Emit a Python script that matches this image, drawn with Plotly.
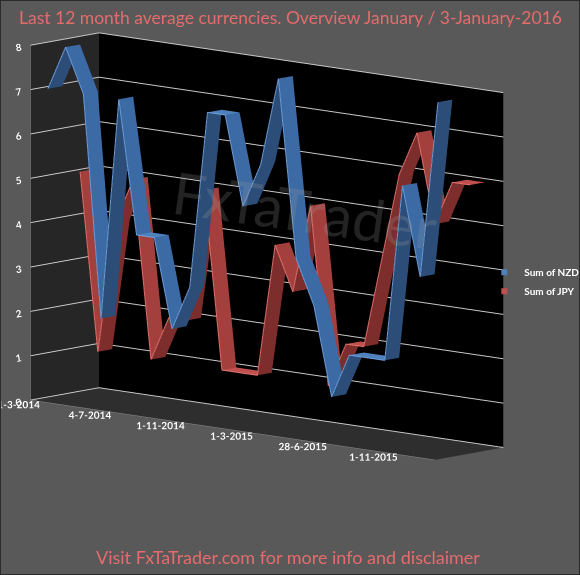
import plotly.graph_objects as go

# monthly snapshots, only every 4th one is labelled on the axis
dates = ["1-3-2014", "6-4-2014", "4-5-2014", "1-6-2014", "4-7-2014", "3-8-2014",
         "7-9-2014", "5-10-2014", "1-11-2014", "7-12-2014", "4-1-2015", "1-2-2015",
         "1-3-2015", "5-4-2015", "3-5-2015", "31-5-2015", "28-6-2015", "2-8-2015",
         "6-9-2015", "4-10-2015", "1-11-2015", "6-12-2015", "3-1-2016"]
nzd = [7, 8, 7, 2, 7, 4, 4, 2, 3, 7, 7, 5, 6, 8, 4, 3, 1, 2, 2, 2, 6, 4, 8]
jpy = [5, 1, 4, 5, 1, 2, 2, 5, 1, 1, 1, 4, 3, 5, 1, 2, 2, 4, 6, 7, 5, 6, 6]
y_ticks = [0, 1, 2, 3, 4, 5, 6, 7, 8]
label_step = 4

TITLE = 'Last 12 month average currencies. Overview January / 3-January-2016'
FOOTER = 'Visit FxTaTrader.com for more info and disclaimer'
TEXT_RED = '#e46c6c'


def ribbon(values, y0, y1, light, mid, dark, edge, name):
    '''
    Builds an Excel like 3D line: a band following the values, with a depth from y0 to y1.
    Rising parts get the dark shade, falling parts the mid shade.
    '''
    xs, ys, zs = [], [], []
    for i, v in enumerate(values):
        xs += [i, i]
        ys += [y0, y1]
        zs += [v, v]

    ii, jj, kk, colors = [], [], [], []
    for i in range(len(values) - 1):
        a, b, c, d = 2 * i, 2 * i + 1, 2 * i + 2, 2 * i + 3
        ii += [a, b]
        jj += [b, d]
        kk += [c, c]
        step = values[i + 1] - values[i]
        col = light if step == 0 else (dark if step > 0 else mid)
        colors += [col, col]

    band = go.Mesh3d(x=xs, y=ys, z=zs, i=ii, j=jj, k=kk,
                     facecolor=colors, flatshading=True,
                     lighting=dict(ambient=1, diffuse=0, specular=0, fresnel=0),
                     hoverinfo='skip', showlegend=False, name=name)
    front = go.Scatter3d(x=list(range(len(values))), y=[y0] * len(values), z=values,
                         mode='lines', line=dict(color=edge, width=2),
                         hoverinfo='skip', showlegend=False)
    key = go.Scatter3d(x=[None], y=[None], z=[None], mode='markers', name=name,
                       marker=dict(symbol='square', size=6, color=light))
    return [band, front, key]


fig = go.Figure()
for tr in ribbon(nzd, 0.15, 0.36, '#4f81bd', '#3b6aa4', '#2b4d78', '#6e9fdc', 'Sum of NZD'):
    fig.add_trace(tr)
for tr in ribbon(jpy, 0.62, 0.83, '#c0504d', '#a3403d', '#7d2e2c', '#e2716d', 'Sum of JPY'):
    fig.add_trace(tr)

tick_idx = list(range(0, len(dates), label_step))
axis_font = dict(family='Lato', size=11, color='white', weight='bold')

fig.update_layout(
    width=580, height=575,
    margin=dict(l=0, r=0, t=0, b=0, autoexpand=False),
    paper_bgcolor='#595959',
    font=dict(family='Lato', color='white'),
    showlegend=True,
    legend=dict(x=0.835, y=0.51, xanchor='left', yanchor='middle',
                bgcolor='rgba(0,0,0,0)', itemwidth=30,
                font=dict(family='Lato', size=10, color='white', weight='bold')),
    scene=dict(
        domain=dict(x=[0.0, 0.9], y=[0.03, 0.95]),
        aspectmode='manual',
        aspectratio=dict(x=2.06, y=0.386, z=1.36),
        # orthographic view from the front right, slightly above
        camera=dict(eye=dict(x=0.90, y=-1.029, z=0.046),
                    center=dict(x=-0.03, y=0, z=-0.184),
                    up=dict(x=0, y=0, z=1),
                    projection=dict(type='orthographic')),
        xaxis=dict(range=[-0.4, 22.4], tickvals=tick_idx,
                   ticktext=[dates[i] for i in tick_idx], tickangle=0,
                   showgrid=False, showbackground=True, backgroundcolor='#262626',
                   showline=True, linecolor='#8c8c8c', ticks='outside', tickcolor='#8c8c8c',
                   tickfont=axis_font, title=dict(text=''), showspikes=False, zeroline=False),
        yaxis=dict(range=[0, 1], showgrid=False, showticklabels=False,
                   showbackground=True, backgroundcolor='#000000',
                   title=dict(text=''), showspikes=False, zeroline=False, ticks=''),
        zaxis=dict(range=[0, 8], tickvals=y_ticks, showgrid=True, gridcolor='#c8c8c8',
                   showbackground=True, backgroundcolor='#2e2e2e',
                   showline=True, linecolor='#8c8c8c', tickfont=axis_font,
                   title=dict(text=''), showspikes=False, zeroline=False),
    ),
    annotations=[
        dict(text=TITLE, x=0.5, y=1 - 18 / 575, xref='paper', yref='paper', showarrow=False,
             xanchor='center', yanchor='middle', font=dict(family='Lato', size=17.5, color=TEXT_RED)),
        dict(text=FOOTER, x=0.497, y=1 - 557 / 575, xref='paper', yref='paper', showarrow=False,
             xanchor='center', yanchor='middle', font=dict(family='Lato', size=18, color=TEXT_RED)),
        dict(text='FxTaTrader', x=0.526, y=0.635, xref='paper', yref='paper', showarrow=False,
             textangle=8, font=dict(family='Lato', size=58, color='rgba(160,160,160,0.22)')),
    ],
    shapes=[dict(type='rect', xref='paper', yref='paper', x0=0, y0=0, x1=1, y1=1,
                 line=dict(color='#2a2a2a', width=2))],
)

fig.write_html('out.html', config={'displayModeBar': False},
               post_script="document.body.style.margin='0';document.body.style.overflow='hidden';")
